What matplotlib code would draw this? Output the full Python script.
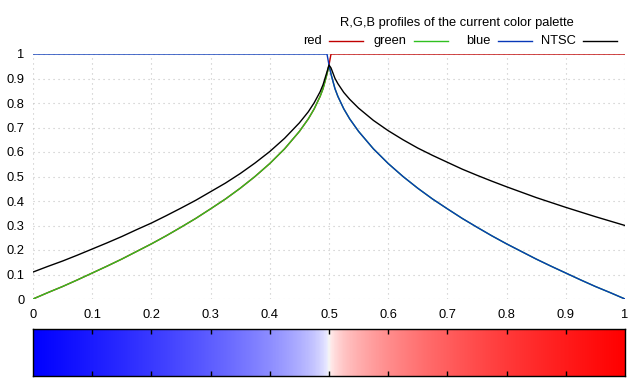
import matplotlib
matplotlib.use("Agg")
import matplotlib.pyplot as plt
from matplotlib.colors import LinearSegmentedColormap
from matplotlib.lines import Line2D
import numpy as np

plt.rcParams["font.family"] = ["Liberation Sans", "DejaVu Sans"]
plt.rcParams["font.size"] = 9.3

# palette samples
x_pos = [0.0, 0.025, 0.05, 0.075, 0.1, 0.125, 0.15, 0.175, 0.2, 0.225, 0.25,
         0.275, 0.3, 0.325, 0.35, 0.375, 0.4, 0.425, 0.45, 0.465, 0.475, 0.485,
         0.49, 0.4966, 0.5, 0.5034, 0.51, 0.515, 0.525, 0.535, 0.55, 0.575,
         0.6, 0.625, 0.65, 0.675, 0.7, 0.725, 0.75, 0.775, 0.8, 0.825, 0.85,
         0.875, 0.9, 0.925, 0.95, 0.975, 1.0]

red = [0.000, 0.026, 0.051, 0.078, 0.106, 0.134, 0.163, 0.194, 0.225, 0.258,
       0.293, 0.329, 0.368, 0.408, 0.452, 0.500, 0.553, 0.613, 0.684, 0.735,
       0.776, 0.827, 0.859, 0.918, 0.955,
       1, 1, 1, 1, 1, 1, 1, 1, 1, 1, 1, 1, 1, 1, 1, 1, 1, 1, 1, 1, 1, 1, 1, 1]

green = [0.000, 0.026, 0.051, 0.078, 0.106, 0.134, 0.163, 0.194, 0.225, 0.258,
         0.293, 0.329, 0.368, 0.408, 0.452, 0.500, 0.553, 0.613, 0.684, 0.735,
         0.776, 0.827, 0.859, 0.918, 0.955,
         0.918, 0.859, 0.827, 0.776, 0.735, 0.684, 0.613, 0.553, 0.500, 0.452,
         0.408, 0.368, 0.329, 0.293, 0.258, 0.225, 0.194, 0.163, 0.134, 0.106,
         0.078, 0.051, 0.026, 0.000]

blue = [1, 1, 1, 1, 1, 1, 1, 1, 1, 1, 1, 1, 1, 1, 1, 1, 1, 1, 1, 1, 1, 1, 1, 1,
        0.955,
        0.918, 0.859, 0.827, 0.776, 0.735, 0.684, 0.613, 0.553, 0.500, 0.452,
        0.408, 0.368, 0.329, 0.293, 0.258, 0.225, 0.194, 0.163, 0.134, 0.106,
        0.078, 0.051, 0.026, 0.000]

ntsc = [0.110, 0.133, 0.155, 0.179, 0.204, 0.229, 0.255, 0.283, 0.310, 0.340,
        0.371, 0.403, 0.438, 0.473, 0.512, 0.555, 0.602, 0.656, 0.719, 0.764,
        0.801, 0.846, 0.875, 0.927, 0.955,
        0.943, 0.901, 0.879, 0.843, 0.815, 0.779, 0.729, 0.687, 0.650, 0.616,
        0.586, 0.558, 0.530, 0.505, 0.481, 0.458, 0.436, 0.414, 0.394, 0.374,
        0.355, 0.336, 0.318, 0.300]

ticks = [0, 0.1, 0.2, 0.3, 0.4, 0.5, 0.6, 0.7, 0.8, 0.9, 1]
tick_labels = ["0", "0.1", "0.2", "0.3", "0.4", "0.5", "0.6", "0.7", "0.8", "0.9", "1"]

series = [("red", red, "#c00000"), ("green", green, "#30c020"),
          ("blue", blue, "#0838b8"), ("NTSC", ntsc, "#000000")]

W, H = 640, 384
fig = plt.figure(figsize=(6.4, 3.84), dpi=100)
ax = fig.add_axes([33 / W, 1 - 299 / H, 592 / W, 245 / H])
for name, vals, col in series:
    ax.plot(x_pos, vals, color=col, lw=1.0)
ax.set_xlim(0, 1)
ax.set_ylim(0, 1)
for s in ax.spines.values():
    s.set_visible(False)
ax.set_xticks(ticks)
ax.set_xticklabels(tick_labels)
ax.set_yticks(ticks)
ax.set_yticklabels(tick_labels)
ax.tick_params(axis="x", length=0, pad=7)
ax.tick_params(axis="y", length=0, pad=6)
ax.grid(True, color="#c4c4c4", linestyle=(0, (1, 3.5)), lw=0.8)
ax.set_axisbelow(True)

# title + gnuplot style key
fig.text(457 / W, 1 - 23 / H, "R,G,B profiles of the current color palette",
         ha="center", va="center")
for i, (name, vals, col) in enumerate(series):
    xr = 322 + i * 84.5
    fig.text(xr / W, 1 - 41 / H, name, ha="right", va="center")
    fig.add_artist(Line2D([(xr + 7) / W, (xr + 41) / W], [1 - 41 / H, 1 - 41 / H],
                          color=col, lw=1.0, transform=fig.transFigure))

# gradient bar of the palette
cdict = {"red": [(x, v, v) for x, v in zip(x_pos, red)],
         "green": [(x, v, v) for x, v in zip(x_pos, green)],
         "blue": [(x, v, v) for x, v in zip(x_pos, blue)]}
cmap = LinearSegmentedColormap("palette", cdict, N=1024)
cax = fig.add_axes([33 / W, 1 - 376 / H, 592 / W, 47 / H])
cax.imshow(np.linspace(0, 1, 1024)[None, :], cmap=cmap, aspect="auto",
           extent=(0, 1, 0, 1), interpolation="nearest")
cax.set_xlim(0, 1)
cax.set_ylim(0, 1)
cax.set_xticks(ticks[1:-1])
cax.set_xticklabels([])
cax.set_yticks([])
cax.tick_params(axis="x", direction="in", length=3.5, width=1, top=True, bottom=True)
for s in cax.spines.values():
    s.set_linewidth(1.0)

fig.savefig("out.png", dpi=100)
